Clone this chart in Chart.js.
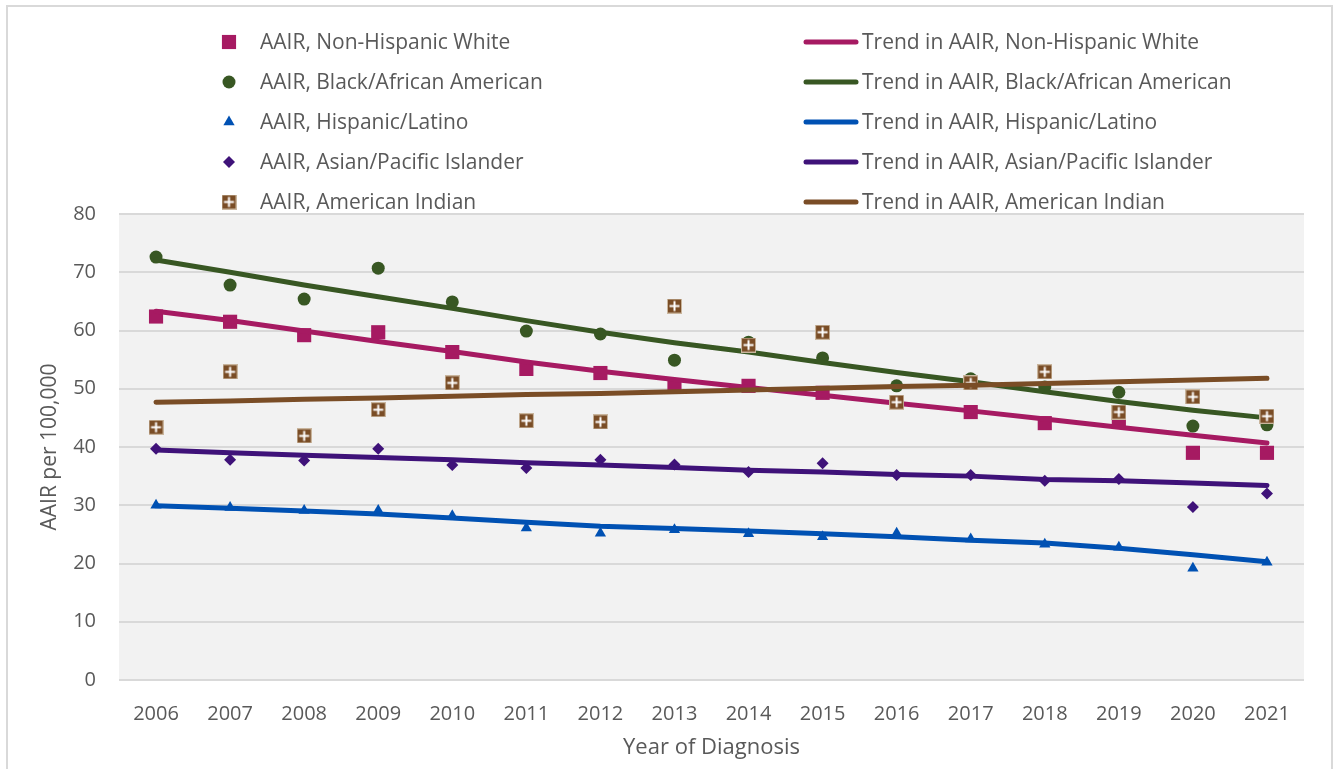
<!DOCTYPE html>
<html>
<head>
<meta charset="utf-8">
<script src="https://cdn.jsdelivr.net/npm/chart.js@4.4.0/dist/chart.umd.min.js"></script>
<style>
  html, body { margin: 0; padding: 0; background: #fff; }
  #wrap { width: 1338px; height: 769px; }
</style>
</head>
<body>
<div id="wrap"><canvas id="aairChart" width="1338" height="769"></canvas></div>
<script>
// Years on the x axis
const years = ['2006', '2007', '2008', '2009', '2010', '2011', '2012', '2013',
               '2014', '2015', '2016', '2017', '2018', '2019', '2020', '2021'];

// Observed AAIR per 100,000
const aairWhite    = [62.4, 61.5, 59.2, 59.7, 56.3, 53.4, 52.7, 50.4, 50.5, 49.3, 47.7, 46.0, 44.1, 44.3, 39.0, 39.0];
const aairBlack    = [72.6, 67.8, 65.4, 70.7, 64.9, 59.9, 59.4, 54.9, 58.0, 55.3, 50.5, 51.7, 50.3, 49.4, 43.6, 43.8];
const aairHispanic = [30.0, 29.6, 29.1, 29.1, 28.2, 26.1, 25.2, 25.8, 25.1, 24.6, 25.2, 24.2, 23.3, 22.8, 19.2, 20.2];
const aairAsian    = [39.7, 37.8, 37.7, 39.7, 36.9, 36.4, 37.8, 37.0, 35.7, 37.2, 35.2, 35.2, 34.2, 34.5, 29.7, 32.0];
const aairAmInd    = [43.4, 52.9, 41.9, 46.4, 51.0, 44.5, 44.3, 64.2, 57.5, 59.7, 47.7, 51.0, 52.9, 46.0, 48.6, 45.3];

// Fitted trend values
const trendWhite    = [63.3, 61.7, 59.9, 58.1, 56.4, 54.6, 53.0, 51.6, 50.2, 48.9, 47.5, 46.2, 44.8, 43.4, 42.0, 40.7];
const trendBlack    = [72.1, 70.0, 67.8, 65.8, 63.8, 61.7, 59.7, 57.9, 56.3, 54.5, 52.8, 51.2, 49.5, 47.8, 46.3, 45.0];
const trendHispanic = [29.9, 29.5, 29.0, 28.5, 27.8, 27.1, 26.4, 26.0, 25.6, 25.1, 24.6, 24.0, 23.5, 22.6, 21.5, 20.3];
const trendAsian    = [39.5, 39.0, 38.6, 38.2, 37.8, 37.3, 36.9, 36.5, 36.0, 35.7, 35.3, 35.0, 34.4, 34.2, 33.8, 33.4];
const trendAmInd    = [47.7, 47.9, 48.2, 48.4, 48.7, 49.0, 49.2, 49.5, 49.8, 50.1, 50.4, 50.6, 50.9, 51.2, 51.5, 51.8];

const groups = ['Non-Hispanic White', 'Black/African American', 'Hispanic/Latino',
                'Asian/Pacific Islander', 'American Indian'];

const colors = ['#A61A62', '#385723', '#0051B3', '#3F1279', '#7A4D26'];
const textColor = '#595959';
const fontFamily = '"Open Sans", Lato, sans-serif';

// Brown square with a white plus, used for the American Indian points
function makeCrossMarker(color) {
    const c = document.createElement('canvas');
    c.width = 15;
    c.height = 15;
    const g = c.getContext('2d');
    g.fillStyle = '#c9b59d';
    g.fillRect(0, 0, 15, 15);
    g.fillStyle = color;
    g.fillRect(1, 1, 13, 13);
    g.fillStyle = '#ffffff';
    g.fillRect(6.5, 2.5, 2, 10);
    g.fillRect(2.5, 6.5, 10, 2);
    return c;
}

const markers = [
    { style: 'rect', radius: 10 },
    { style: 'circle', radius: 6.5 },
    { style: 'triangle', radius: 6.5 },
    { style: 'rectRot', radius: 6 },
    { style: makeCrossMarker(colors[4]), radius: 8 }
];

const observed = [aairWhite, aairBlack, aairHispanic, aairAsian, aairAmInd];
const trends = [trendWhite, trendBlack, trendHispanic, trendAsian, trendAmInd];

// Excel series order: points then trend for each group, later ones drawn on top
const datasets = [];
groups.forEach((name, i) => {
    datasets.push({
        label: 'AAIR, ' + name,
        data: observed[i],
        showLine: false,
        pointStyle: markers[i].style,
        pointRadius: markers[i].radius,
        pointHoverRadius: markers[i].radius,
        pointBackgroundColor: colors[i],
        pointBorderWidth: 0,
        borderColor: colors[i],
        backgroundColor: colors[i],
        order: 20 - datasets.length
    });
    datasets.push({
        label: 'Trend in AAIR, ' + name,
        data: trends[i],
        borderColor: colors[i],
        backgroundColor: colors[i],
        borderWidth: 5,
        borderCapStyle: 'round',
        borderJoinStyle: 'round',
        pointRadius: 0,
        pointHoverRadius: 0,
        tension: 0,
        order: 20 - datasets.length
    });
});

// Plot background, outer frame and the two-column legend
const chartDecor = {
    id: 'chartDecor',
    beforeDraw(chart) {
        const { ctx, chartArea: a } = chart;
        ctx.save();
        ctx.fillStyle = '#f2f2f2';
        ctx.fillRect(a.left, a.top, a.right - a.left, a.bottom - a.top);
        ctx.strokeStyle = '#d9d9d9';
        ctx.lineWidth = 2;
        ctx.strokeRect(7, 6, 1325, 800);
        ctx.restore();
    },
    afterDraw(chart) {
        const ctx = chart.ctx;
        const ds = chart.data.datasets;
        ctx.save();
        ctx.font = '21px ' + fontFamily;
        ctx.fillStyle = textColor;
        ctx.textBaseline = 'middle';
        for (let i = 0; i < 5; i++) {
            const y = 42 + 40 * i;
            const pts = ds[2 * i];
            const line = ds[2 * i + 1];
            // marker
            if (pts.pointStyle instanceof HTMLCanvasElement) {
                const img = pts.pointStyle;
                ctx.drawImage(img, 229 - img.width / 2, y - img.height / 2);
            } else {
                ctx.fillStyle = pts.pointBackgroundColor;
                Chart.helpers.drawPoint(ctx, {
                    pointStyle: pts.pointStyle,
                    radius: pts.pointRadius,
                    rotation: 0,
                    borderWidth: 0
                }, 229, y);
            }
            // trend swatch
            ctx.strokeStyle = line.borderColor;
            ctx.lineWidth = 5;
            ctx.lineCap = 'round';
            ctx.beginPath();
            ctx.moveTo(806, y);
            ctx.lineTo(856, y);
            ctx.stroke();
            // labels (nudged down to sit level with the markers)
            ctx.fillStyle = textColor;
            ctx.fillText(pts.label, 260, y + 1.5);
            ctx.fillText(line.label, 862, y + 1.5);
        }
        ctx.restore();
    }
};

new Chart(document.getElementById('aairChart'), {
    type: 'line',
    data: { labels: years, datasets },
    options: {
        responsive: false,
        devicePixelRatio: 1,
        animation: false,
        layout: { padding: { top: 214, right: 34, left: 0, bottom: 0 } },
        plugins: {
            legend: { display: false },
            tooltip: { enabled: false }
        },
        scales: {
            x: {
                offset: true,
                grid: { display: false },
                border: { display: false },
                ticks: {
                    color: textColor,
                    font: { family: fontFamily, size: 20 },
                    padding: 14,
                    maxRotation: 0,
                    autoSkip: false
                },
                title: {
                    display: true,
                    text: 'Year of Diagnosis',
                    color: textColor,
                    font: { family: fontFamily, size: 22 },
                    padding: { top: 0, bottom: 8 }
                },
                afterFit(scale) { scale.height = 89; }
            },
            y: {
                min: 0,
                max: 80,
                grid: { color: '#d9d9d9', lineWidth: 2, drawTicks: false },
                border: { display: false },
                ticks: {
                    stepSize: 10,
                    color: textColor,
                    font: { family: fontFamily, size: 20 },
                    padding: 23
                },
                title: {
                    display: true,
                    text: 'AAIR per 100,000',
                    color: textColor,
                    font: { family: fontFamily, size: 21 },
                    padding: { top: 37, bottom: 0 }
                },
                afterFit(scale) { scale.width = 119; }
            }
        }
    },
    plugins: [chartDecor]
});
</script>
</body>
</html>
